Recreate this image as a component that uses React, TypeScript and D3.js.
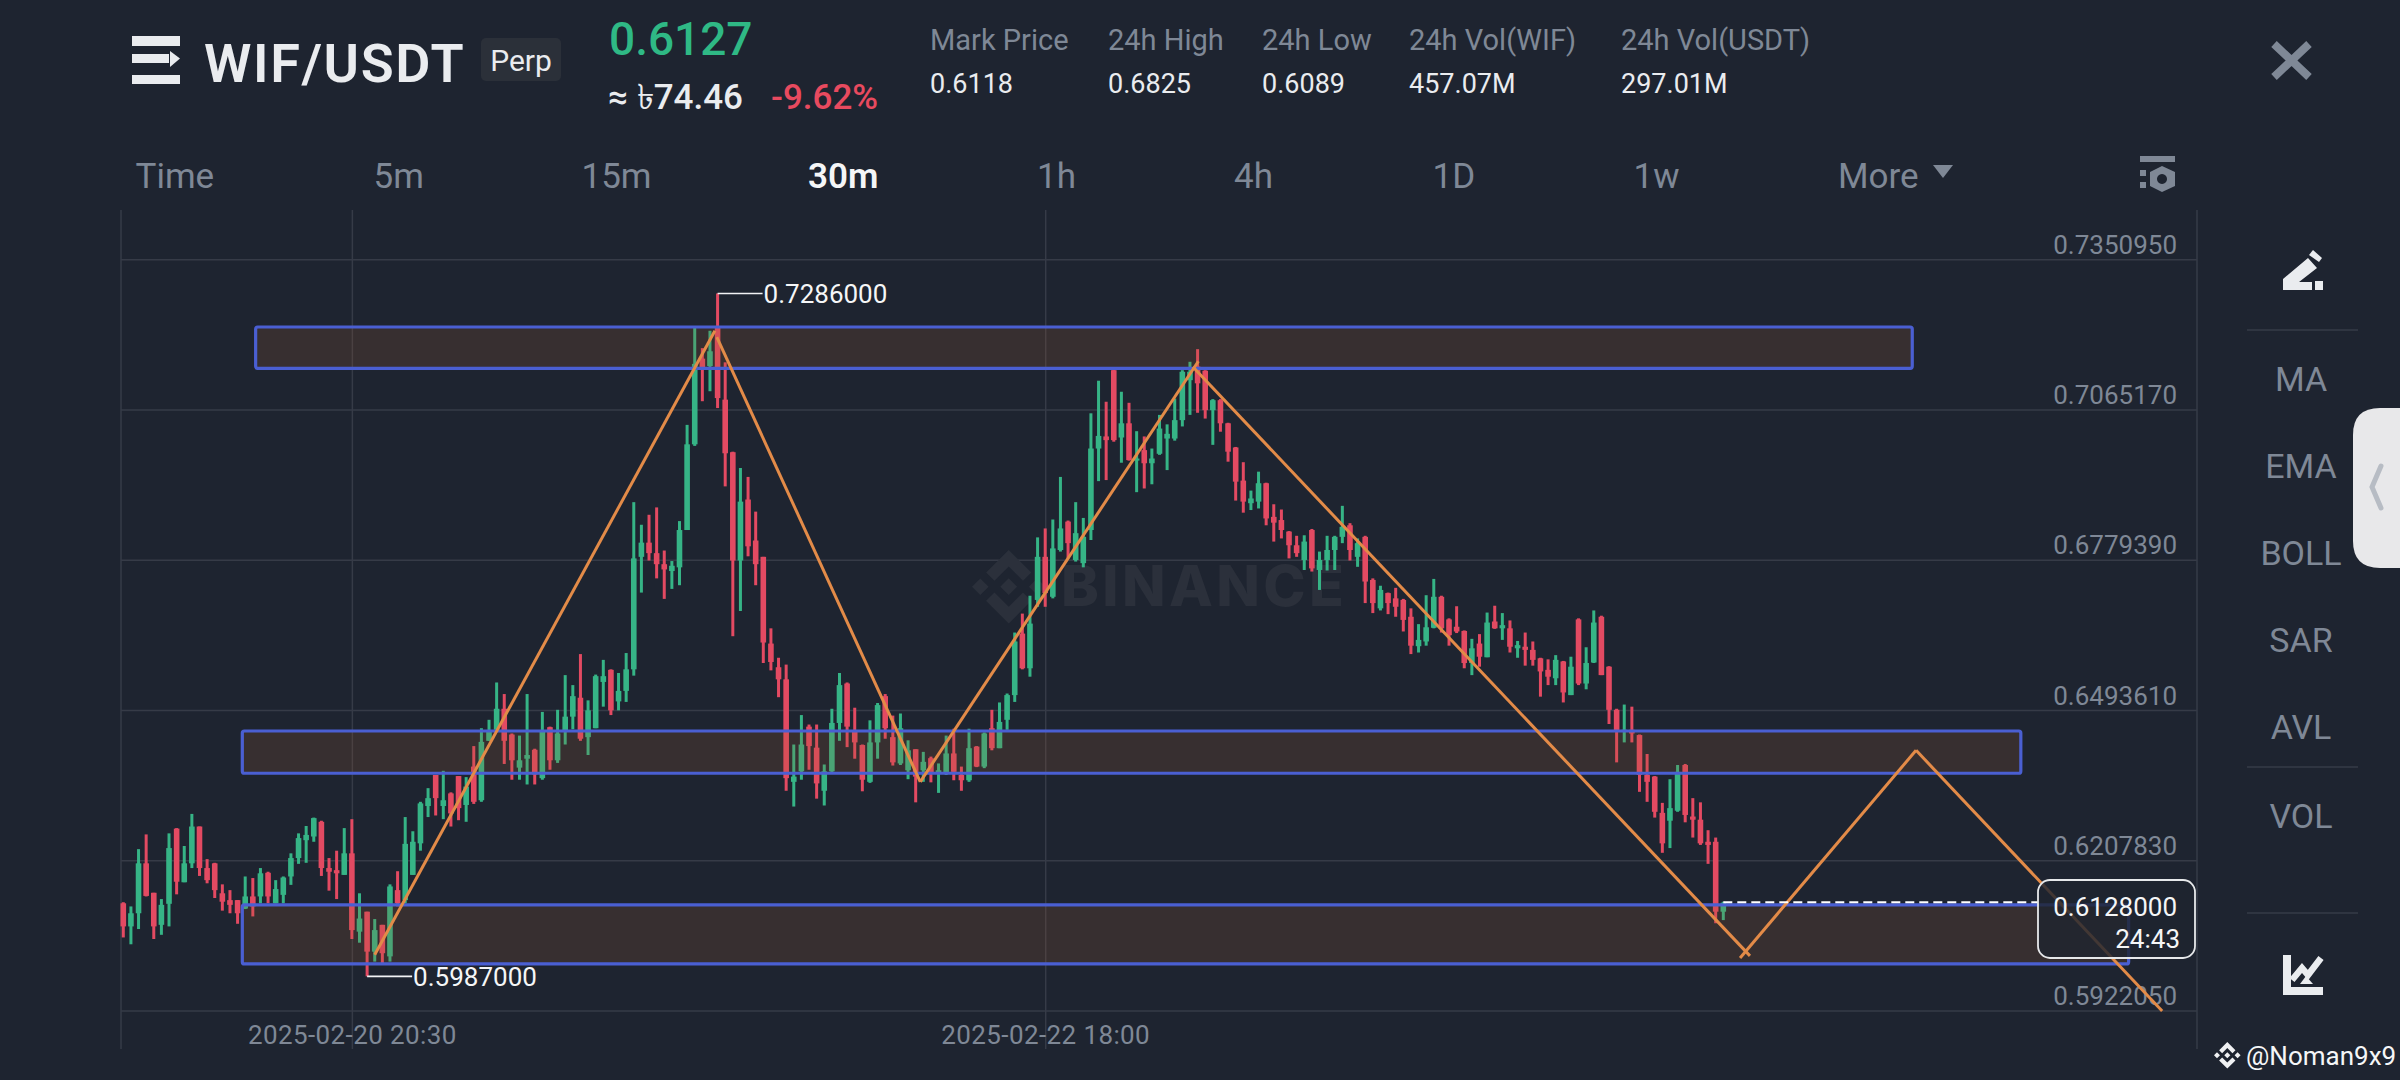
import * as d3 from 'd3';
import { useEffect, useRef } from 'react';

// 30m candles, one row per ten bars
const highs = [
  0.6128, 0.6120, 0.6229, 0.6257, 0.6146, 0.6134, 0.6259, 0.6269, 0.6235, 0.6296,
  0.6272, 0.6210, 0.6203, 0.6162, 0.6151, 0.6132, 0.6177, 0.6174, 0.6193, 0.6186,
  0.6170, 0.6177, 0.6221, 0.6259, 0.6273, 0.6289, 0.6283, 0.6212, 0.6226, 0.6269,
  0.6286, 0.6145, 0.6110, 0.6096, 0.6085, 0.6162, 0.6187, 0.6290, 0.6263, 0.6319,
  0.6345, 0.6370, 0.6378, 0.6337, 0.6368, 0.6366, 0.6425, 0.6459, 0.6475, 0.6546,
  0.6524, 0.6449, 0.6445, 0.6524, 0.6420, 0.6490, 0.6462, 0.6494, 0.6560, 0.6541,
  0.6600, 0.6512, 0.6561, 0.6589, 0.6571, 0.6564, 0.6602, 0.6889, 0.6846, 0.6865,
  0.6879, 0.6797, 0.6777, 0.6853, 0.7036, 0.7221, 0.7182, 0.7215, 0.7286, 0.7155,
  0.6985, 0.6954, 0.6937, 0.6871, 0.6785, 0.6649, 0.6593, 0.6580, 0.6428, 0.6484,
  0.6466, 0.6466, 0.6390, 0.6496, 0.6564, 0.6546, 0.6498, 0.6428, 0.6474, 0.6507,
  0.6524, 0.6483, 0.6487, 0.6436, 0.6419, 0.6414, 0.6405, 0.6392, 0.6445, 0.6458,
  0.6386, 0.6458, 0.6425, 0.6451, 0.6494, 0.6508, 0.6525, 0.6641, 0.6677, 0.6711,
  0.6822, 0.6839, 0.6856, 0.6937, 0.6854, 0.6889, 0.6859, 0.7058, 0.7120, 0.7080,
  0.7142, 0.7099, 0.7078, 0.7024, 0.7014, 0.6991, 0.7055, 0.7037, 0.7086, 0.7140,
  0.7156, 0.7180, 0.7140, 0.7085, 0.7085, 0.7040, 0.6994, 0.6965, 0.6911, 0.6947,
  0.6926, 0.6885, 0.6875, 0.6834, 0.6825, 0.6826, 0.6838, 0.6795, 0.6825, 0.6825,
  0.6882, 0.6849, 0.6820, 0.6825, 0.6744, 0.6730, 0.6717, 0.6726, 0.6705, 0.6687,
  0.6657, 0.6712, 0.6743, 0.6711, 0.6668, 0.6691, 0.6645, 0.6629, 0.6638, 0.6679,
  0.6692, 0.6678, 0.6664, 0.6625, 0.6641, 0.6624, 0.6593, 0.6590, 0.6598, 0.6587,
  0.6595, 0.6668, 0.6613, 0.6683, 0.6673, 0.6577, 0.6496, 0.6504, 0.6500, 0.6447,
  0.6410, 0.6368, 0.6317, 0.6362, 0.6389, 0.6391, 0.6326, 0.6318, 0.6265, 0.6251, 0.6129,
];
const lows = [
  0.6061, 0.6048, 0.6077, 0.6139, 0.6058, 0.6066, 0.6082, 0.6143, 0.6166, 0.6193,
  0.6178, 0.6164, 0.6136, 0.6112, 0.6107, 0.6087, 0.6115, 0.6101, 0.6126, 0.6126,
  0.6126, 0.6126, 0.6161, 0.6201, 0.6203, 0.6243, 0.6178, 0.6150, 0.6134, 0.6180,
  0.6058, 0.6051, 0.5987, 0.6015, 0.6012, 0.6015, 0.6120, 0.6126, 0.6180, 0.6226,
  0.6290, 0.6293, 0.6286, 0.6272, 0.6284, 0.6281, 0.6315, 0.6319, 0.6435, 0.6452,
  0.6391, 0.6361, 0.6361, 0.6352, 0.6352, 0.6361, 0.6380, 0.6393, 0.6428, 0.6457,
  0.6435, 0.6408, 0.6459, 0.6500, 0.6484, 0.6493, 0.6509, 0.6559, 0.6717, 0.6778,
  0.6744, 0.6705, 0.6724, 0.6731, 0.6836, 0.6996, 0.7081, 0.7100, 0.7068, 0.6919,
  0.6634, 0.6682, 0.6786, 0.6731, 0.6583, 0.6569, 0.6518, 0.6340, 0.6310, 0.6361,
  0.6380, 0.6325, 0.6312, 0.6375, 0.6435, 0.6423, 0.6401, 0.6339, 0.6355, 0.6401,
  0.6439, 0.6388, 0.6389, 0.6362, 0.6318, 0.6357, 0.6356, 0.6336, 0.6370, 0.6360,
  0.6340, 0.6357, 0.6385, 0.6383, 0.6417, 0.6421, 0.6456, 0.6509, 0.6571, 0.6557,
  0.6690, 0.6690, 0.6706, 0.6795, 0.6782, 0.6776, 0.6765, 0.6817, 0.6929, 0.6931,
  0.7004, 0.6964, 0.6968, 0.6908, 0.6915, 0.6923, 0.6979, 0.6950, 0.7006, 0.7033,
  0.7055, 0.7059, 0.7048, 0.6998, 0.7023, 0.6966, 0.6892, 0.6869, 0.6874, 0.6877,
  0.6845, 0.6814, 0.6820, 0.6782, 0.6785, 0.6760, 0.6757, 0.6722, 0.6759, 0.6760,
  0.6811, 0.6778, 0.6766, 0.6697, 0.6678, 0.6683, 0.6676, 0.6671, 0.6643, 0.6600,
  0.6603, 0.6616, 0.6649, 0.6641, 0.6616, 0.6640, 0.6573, 0.6560, 0.6576, 0.6594,
  0.6648, 0.6627, 0.6603, 0.6593, 0.6578, 0.6578, 0.6519, 0.6541, 0.6541, 0.6508,
  0.6522, 0.6541, 0.6533, 0.6583, 0.6560, 0.6467, 0.6394, 0.6432, 0.6432, 0.6338,
  0.6319, 0.6289, 0.6222, 0.6231, 0.6300, 0.6280, 0.6251, 0.6237, 0.6201, 0.6088, 0.6094,
];
const opens = [
  0.6126, 0.6082, 0.6107, 0.6202, 0.6146, 0.6085, 0.6125, 0.6268, 0.6166, 0.6202,
  0.6272, 0.6193, 0.6202, 0.6145, 0.6132, 0.6132, 0.6116, 0.6139, 0.6139, 0.6184,
  0.6126, 0.6142, 0.6177, 0.6212, 0.6246, 0.6253, 0.6281, 0.6193, 0.6189, 0.6180,
  0.6221, 0.6072, 0.6110, 0.6034, 0.6085, 0.6025, 0.6151, 0.6132, 0.6180, 0.6240,
  0.6311, 0.6370, 0.6311, 0.6335, 0.6368, 0.6313, 0.6386, 0.6322, 0.6435, 0.6456,
  0.6496, 0.6447, 0.6384, 0.6401, 0.6418, 0.6364, 0.6461, 0.6398, 0.6454, 0.6481,
  0.6517, 0.6442, 0.6459, 0.6547, 0.6570, 0.6510, 0.6530, 0.6571, 0.6785, 0.6812,
  0.6792, 0.6771, 0.6758, 0.6765, 0.6836, 0.6999, 0.7162, 0.7148, 0.7223, 0.7084,
  0.6984, 0.6778, 0.6894, 0.6816, 0.6785, 0.6620, 0.6575, 0.6552, 0.6357, 0.6377,
  0.6462, 0.6422, 0.6340, 0.6377, 0.6469, 0.6544, 0.6452, 0.6427, 0.6357, 0.6432,
  0.6520, 0.6442, 0.6392, 0.6379, 0.6419, 0.6379, 0.6402, 0.6373, 0.6373, 0.6411,
  0.6370, 0.6360, 0.6424, 0.6386, 0.6459, 0.6421, 0.6475, 0.6522, 0.6639, 0.6573,
  0.6703, 0.6785, 0.6709, 0.6798, 0.6852, 0.6779, 0.6773, 0.6836, 0.6991, 0.7014,
  0.7140, 0.7012, 0.7039, 0.6968, 0.6988, 0.6963, 0.6981, 0.7010, 0.7010, 0.7045,
  0.7121, 0.7147, 0.7139, 0.7064, 0.7083, 0.7039, 0.6993, 0.6930, 0.6887, 0.6890,
  0.6925, 0.6861, 0.6855, 0.6833, 0.6807, 0.6779, 0.6836, 0.6760, 0.6779, 0.6798,
  0.6823, 0.6845, 0.6785, 0.6823, 0.6741, 0.6687, 0.6716, 0.6706, 0.6703, 0.6671,
  0.6615, 0.6624, 0.6650, 0.6709, 0.6666, 0.6652, 0.6644, 0.6583, 0.6620, 0.6594,
  0.6662, 0.6649, 0.6649, 0.6611, 0.6614, 0.6608, 0.6592, 0.6570, 0.6554, 0.6586,
  0.6522, 0.6666, 0.6544, 0.6584, 0.6671, 0.6576, 0.6494, 0.6452, 0.6456, 0.6446,
  0.6370, 0.6367, 0.6298, 0.6283, 0.6302, 0.6389, 0.6291, 0.6285, 0.6243, 0.6243, 0.6110,
];
const closes = [
  0.6082, 0.6107, 0.6202, 0.6140, 0.6082, 0.6123, 0.6231, 0.6167, 0.6202, 0.6272,
  0.6193, 0.6170, 0.6151, 0.6129, 0.6123, 0.6107, 0.6139, 0.6120, 0.6183, 0.6139,
  0.6153, 0.6175, 0.6212, 0.6250, 0.6256, 0.6288, 0.6193, 0.6186, 0.6183, 0.6221,
  0.6075, 0.6097, 0.6034, 0.6075, 0.6031, 0.6158, 0.6126, 0.6239, 0.6243, 0.6316,
  0.6326, 0.6326, 0.6322, 0.6297, 0.6307, 0.6348, 0.6319, 0.6433, 0.6452, 0.6496,
  0.6435, 0.6398, 0.6398, 0.6408, 0.6371, 0.6454, 0.6398, 0.6449, 0.6481, 0.6520,
  0.6439, 0.6493, 0.6558, 0.6558, 0.6493, 0.6530, 0.6571, 0.6782, 0.6812, 0.6792,
  0.6771, 0.6761, 0.6768, 0.6836, 0.6999, 0.7152, 0.7145, 0.7176, 0.7087, 0.6982,
  0.6778, 0.6890, 0.6805, 0.6771, 0.6622, 0.6585, 0.6552, 0.6364, 0.6367, 0.6428,
  0.6425, 0.6354, 0.6377, 0.6469, 0.6541, 0.6462, 0.6432, 0.6361, 0.6432, 0.6503,
  0.6459, 0.6394, 0.6459, 0.6417, 0.6367, 0.6395, 0.6373, 0.6379, 0.6411, 0.6376,
  0.6360, 0.6421, 0.6386, 0.6449, 0.6421, 0.6471, 0.6522, 0.6624, 0.6573, 0.6658,
  0.6785, 0.6716, 0.6801, 0.6839, 0.6811, 0.6830, 0.6823, 0.6991, 0.7015, 0.7007,
  0.7007, 0.7039, 0.6969, 0.6972, 0.6963, 0.6972, 0.7029, 0.7019, 0.7045, 0.7137,
  0.7137, 0.7115, 0.7064, 0.7083, 0.7039, 0.6985, 0.6928, 0.6890, 0.6896, 0.6925,
  0.6858, 0.6850, 0.6836, 0.6807, 0.6792, 0.6814, 0.6763, 0.6779, 0.6798, 0.6823,
  0.6842, 0.6798, 0.6811, 0.6738, 0.6697, 0.6722, 0.6697, 0.6690, 0.6665, 0.6616,
  0.6627, 0.6651, 0.6709, 0.6649, 0.6636, 0.6643, 0.6583, 0.6611, 0.6595, 0.6660,
  0.6649, 0.6655, 0.6614, 0.6617, 0.6608, 0.6589, 0.6567, 0.6557, 0.6589, 0.6527,
  0.6576, 0.6544, 0.6583, 0.6660, 0.6560, 0.6494, 0.6452, 0.6456, 0.6449, 0.6370,
  0.6357, 0.6300, 0.6240, 0.6307, 0.6376, 0.6294, 0.6285, 0.6240, 0.6237, 0.6110, 0.6127,
];

const priceTicks = [0.735095, 0.706517, 0.677939, 0.649361, 0.620783, 0.592205];
const timeTicks = [30, 121];
const timeLabels = ['2025-02-20 20:30', '2025-02-22 18:00'];

// drawn zones: bar index from/to, price top/bottom
const zoneFrom = [17.37, 15.62, 15.62];
const zoneTo = [234.8, 249.05, 263.2];
const zoneTop = [0.72222, 0.64537, 0.61228];
const zoneBottom = [0.71436, 0.63733, 0.60106];

// hand drawn legs as [bar index, price] pairs
const trendLegs: [number, number][][] = [
  [[33.0, 0.6028], [77.65, 0.7215]],
  [[77.9, 0.7203], [104.6, 0.6357]],
  [[104.6, 0.6357], [141.1, 0.7157]],
  [[140.4, 0.7146], [213.5, 0.6026]],
  [[212.2, 0.6022], [235.3, 0.6417]],
  [[235.3, 0.6417], [267.6, 0.5921]],
];

const maxIndex = 78;
const minIndex = 32;
const lastPrice = 0.6128;

const statLabels = ['Mark Price', '24h High', '24h Low', '24h Vol(WIF)', '24h Vol(USDT)'];
const statValues = ['0.6118', '0.6825', '0.6089', '457.07M', '297.01M'];
const statX = [930, 1108, 1262, 1409, 1621];

const periods = ['Time', '5m', '15m', '30m', '1h', '4h', '1D', '1w', 'More'];
const periodX = [135.5, 373.5, 581.5, 808, 1037, 1234, 1432.5, 1633.5, 1838];

const sideLabels = ['MA', 'EMA', 'BOLL', 'SAR', 'AVL', 'VOL'];
const sideY = [391, 478, 565, 652, 739, 828];

const BG = '#1e2430';
const GRID = '#363b47';
const GREY = '#7f8896';
const LIGHT = '#eaecef';
const UP = '#36b486';
const DOWN = '#e34a62';
const FONT = 'Roboto, sans-serif';
const LOGO =
  'M38.73 53.2l24.59-24.58 24.6 24.6 14.3-14.31L63.32 0 24.43 38.9zM0 63.31L14.3 49l14.31 14.31-14.31 14.3zM38.73 73.41l24.59 24.59 24.6-24.6 14.31 14.29-38.9 38.91-38.91-38.88v-.03zM98 63.31l14.3-14.31 14.31 14.31-14.31 14.3zM77.83 63.3L63.32 48.78 52.59 59.51l-1.24 1.23-2.54 2.54 14.51 14.5 14.51-14.47z';

const App = () => {
  const chartRef = useRef<SVGGElement | null>(null);

  useEffect(() => {
    if (!chartRef.current) return;
    const g = d3.select(chartRef.current);
    g.selectAll('*').remove();

    const x = d3.scaleLinear().domain([0, 210]).range([123.3, 1723.3]);
    const y = d3.scaleLinear().domain([0.592205, 0.735095]).range([1010.5, 259.3]);

    // price grid + labels
    const yAxis = g
      .append('g')
      .attr('transform', 'translate(2197,0)')
      .call(
        d3
          .axisLeft(y)
          .tickValues(priceTicks)
          .tickSize(2076)
          .tickFormat((d) => d3.format('.7f')(d as number))
      );
    yAxis.select('.domain').remove();
    yAxis.selectAll('line').attr('stroke', GRID).attr('stroke-width', 1.5);
    yAxis
      .selectAll('text')
      .attr('x', -20)
      .attr('y', -6)
      .attr('dy', 0)
      .attr('fill', GREY)
      .attr('font-family', FONT)
      .attr('font-size', 26);

    // time grid + labels
    const xAxis = g
      .append('g')
      .attr('transform', 'translate(0,210)')
      .call(
        d3
          .axisBottom(x)
          .tickValues(timeTicks)
          .tickSize(839)
          .tickFormat((_d, i) => timeLabels[i])
      );
    xAxis.select('.domain').remove();
    xAxis.selectAll('line').attr('stroke', GRID).attr('stroke-width', 1.5);
    xAxis
      .selectAll('text')
      .attr('y', 834)
      .attr('dy', 0)
      .attr('fill', GREY)
      .attr('font-family', FONT)
      .attr('font-size', 26)
      .attr('letter-spacing', 0.4);

    g.selectAll('.edge')
      .data([121, 2197])
      .enter()
      .append('line')
      .attr('x1', (d) => d)
      .attr('x2', (d) => d)
      .attr('y1', 210)
      .attr('y2', 1049)
      .attr('stroke', GRID)
      .attr('stroke-width', 1.5);

    // watermark
    g.append('path')
      .attr('d', LOGO)
      .attr('transform', 'translate(972,550) scale(0.58)')
      .attr('fill', '#2b303b');
    g.append('text')
      .attr('x', 1061)
      .attr('y', 606)
      .attr('font-family', 'Inter, sans-serif')
      .attr('font-weight', 800)
      .attr('font-size', 57)
      .attr('letter-spacing', 3.4)
      .attr('fill', '#2b303b')
      .text('BINANCE');

    // candles
    const bars = d3.range(highs.length);
    const colorOf = (i: number) => (closes[i] >= opens[i] ? UP : DOWN);
    g.append('g')
      .selectAll('line')
      .data(bars)
      .enter()
      .append('line')
      .attr('x1', (i) => x(i))
      .attr('x2', (i) => x(i))
      .attr('y1', (i) => y(highs[i]))
      .attr('y2', (i) => y(lows[i]))
      .attr('stroke', colorOf)
      .attr('stroke-width', 3);
    g.append('g')
      .selectAll('rect')
      .data(bars)
      .enter()
      .append('rect')
      .attr('x', (i) => x(i) - 2.8)
      .attr('width', 5.6)
      .attr('y', (i) => y(Math.max(opens[i], closes[i])))
      .attr('height', (i) => Math.max(2, y(Math.min(opens[i], closes[i])) - y(Math.max(opens[i], closes[i]))))
      .attr('fill', colorOf);

    // zones
    zoneFrom.forEach((from, k) => {
      g.append('rect')
        .attr('x', x(from))
        .attr('y', y(zoneTop[k]))
        .attr('width', x(zoneTo[k]) - x(from))
        .attr('height', y(zoneBottom[k]) - y(zoneTop[k]))
        .attr('rx', 2)
        .attr('fill', 'rgb(165,95,48)')
        .attr('fill-opacity', 0.19)
        .attr('stroke', '#4a5fd2')
        .attr('stroke-width', 3.2);
    });

    // hand drawn legs
    const line = d3
      .line<[number, number]>()
      .x((d) => x(d[0]))
      .y((d) => y(d[1]));
    g.selectAll('.leg')
      .data(trendLegs)
      .enter()
      .append('path')
      .attr('d', (d) => line(d))
      .attr('fill', 'none')
      .attr('stroke', '#e38b48')
      .attr('stroke-width', 3);

    // high / low markers
    const marker = (index: number, price: number) => {
      const px = x(index);
      const py = y(price);
      g.append('line')
        .attr('x1', px)
        .attr('x2', px + 45)
        .attr('y1', py)
        .attr('y2', py)
        .attr('stroke', '#f2f3f5')
        .attr('stroke-width', 1.6);
      g.append('text')
        .attr('x', px + 46)
        .attr('y', py + 9.5)
        .attr('font-family', FONT)
        .attr('font-size', 26)
        .attr('fill', '#f5f6f7')
        .text(d3.format('.7f')(price));
    };
    marker(maxIndex, highs[maxIndex]);
    marker(minIndex, lows[minIndex]);

    // last price line + box
    g.append('line')
      .attr('x1', x(210))
      .attr('x2', 2038)
      .attr('y1', y(lastPrice))
      .attr('y2', y(lastPrice))
      .attr('stroke', '#ffffff')
      .attr('stroke-width', 2)
      .attr('stroke-dasharray', '9 5');
    g.append('rect')
      .attr('x', 2038)
      .attr('y', 880)
      .attr('width', 157)
      .attr('height', 78)
      .attr('rx', 12)
      .attr('fill', BG)
      .attr('fill-opacity', 0.82)
      .attr('stroke', '#e6e8ea')
      .attr('stroke-width', 1.8);
    g.append('text')
      .attr('x', 2177)
      .attr('y', 916)
      .attr('text-anchor', 'end')
      .attr('font-family', FONT)
      .attr('font-size', 26)
      .attr('fill', '#f5f6f7')
      .text(d3.format('.7f')(lastPrice));
    g.append('text')
      .attr('x', 2180)
      .attr('y', 948)
      .attr('text-anchor', 'end')
      .attr('font-family', FONT)
      .attr('font-size', 26)
      .attr('fill', '#f5f6f7')
      .text('24:43');
  }, []);

  return (
    <svg
      width={2400}
      height={1080}
      viewBox="0 0 2400 1080"
      style={{ position: 'absolute', left: 0, top: 0, display: 'block', background: BG }}
      fontFamily={FONT}
    >
      <rect width={2400} height={1080} fill={BG} />

      {/* header */}
      <g fill={LIGHT}>
        <rect x={132} y={36} width={48} height={10} />
        <rect x={132} y={54} width={37} height={9} />
        <path d="M170 51 L180 58.5 L170 67 Z" />
        <rect x={132} y={75} width={48} height={9} />
      </g>
      <text x={204} y={82} fontSize={54} fontWeight={600} fill={LIGHT} letterSpacing={1.6}>
        WIF/USDT
      </text>
      <rect x={481} y={38} width={80} height={43} rx={5} fill="#2b3039" />
      <text x={521} y={71} fontSize={30} fill={LIGHT} textAnchor="middle">
        Perp
      </text>
      <text x={609} y={55} fontSize={46} fontWeight={500} fill="#2fb985">
        0.6127
      </text>
      <text x={608} y={109} fontSize={35} fontWeight={500} fill={LIGHT}>
        ≈ ৳74.46
      </text>
      <text x={771} y={109} fontSize={35} fontWeight={500} fill="#e84a5f">
        -9.62%
      </text>

      {statLabels.map((d, i) => (
        <g key={d}>
          <text x={statX[i]} y={50} fontSize={29} fill={GREY}>
            {d}
          </text>
          <text x={statX[i]} y={93} fontSize={27} fill={LIGHT}>
            {statValues[i]}
          </text>
        </g>
      ))}
      <path d="M2274 44 L2309 77 M2309 44 L2274 77" stroke={GREY} strokeWidth={8} fill="none" />

      {/* period tabs */}
      {periods.map((d, i) => (
        <text
          key={d}
          x={periodX[i]}
          y={188}
          fontSize={35}
          fontWeight={d === '30m' ? 600 : 400}
          fill={d === '30m' ? '#f5f6f7' : GREY}
        >
          {d}
        </text>
      ))}
      <path d="M1933 165 L1953 165 L1943 178 Z" fill={GREY} />
      <g fill={GREY}>
        <rect x={2140} y={156} width={35} height={6} />
        <rect x={2140} y={170} width={6} height={6} />
        <rect x={2140} y={182} width={6} height={6} />
        <path
          fillRule="evenodd"
          d="M2150 172 L2162 166 L2175 172 L2175 186 L2162 192 L2150 186 Z M2162 174 a5 5 0 1 0 0.01 0 Z"
        />
      </g>

      <g ref={chartRef} />

      {/* right rail */}
      <g fill={LIGHT}>
        <path d="M2283 290 L2283 279 L2308 258 L2317 268 L2299 282 L2312 282 L2312 290 Z" />
        <path d="M2309 255 L2313 250 L2322 258 L2319 262 Z" />
        <rect x={2315} y={281} width={8} height={9} />
      </g>
      {[330, 767, 913].map((d) => (
        <line key={d} x1={2247} x2={2358} y1={d} y2={d} stroke={GRID} strokeWidth={1.5} />
      ))}
      {sideLabels.map((d, i) => (
        <text key={d} x={2301} y={sideY[i]} fontSize={34} textAnchor="middle" fill={GREY}>
          {d}
        </text>
      ))}
      <path
        d="M2400 408 L2380 408 Q2353 408 2353 435 L2353 541 Q2353 568 2380 568 L2400 568 Z"
        fill="#e8e8ea"
      />
      <path d="M2381 466 L2372 487 L2381 508" fill="none" stroke="#b7bcc4" strokeWidth={5} strokeLinecap="round" />
      <path d="M2283 955 L2291 955 L2291 987 L2323 987 L2323 995 L2283 995 Z" fill={LIGHT} />
      <path d="M2292 980 L2302 968 L2308 975 L2321 958" fill="none" stroke={LIGHT} strokeWidth={6.5} />
      <path d="M2300 984 L2306 976 L2313 984 Z" fill={LIGHT} />

      {/* corner handle */}
      <path d={LOGO} transform="translate(2214,1042) scale(0.21)" fill="#f0f1f3" />
      <text x={2246} y={1065} fontSize={26} fill="#f5f6f7">
        @Noman9x9
      </text>
    </svg>
  );
};

export default App;
